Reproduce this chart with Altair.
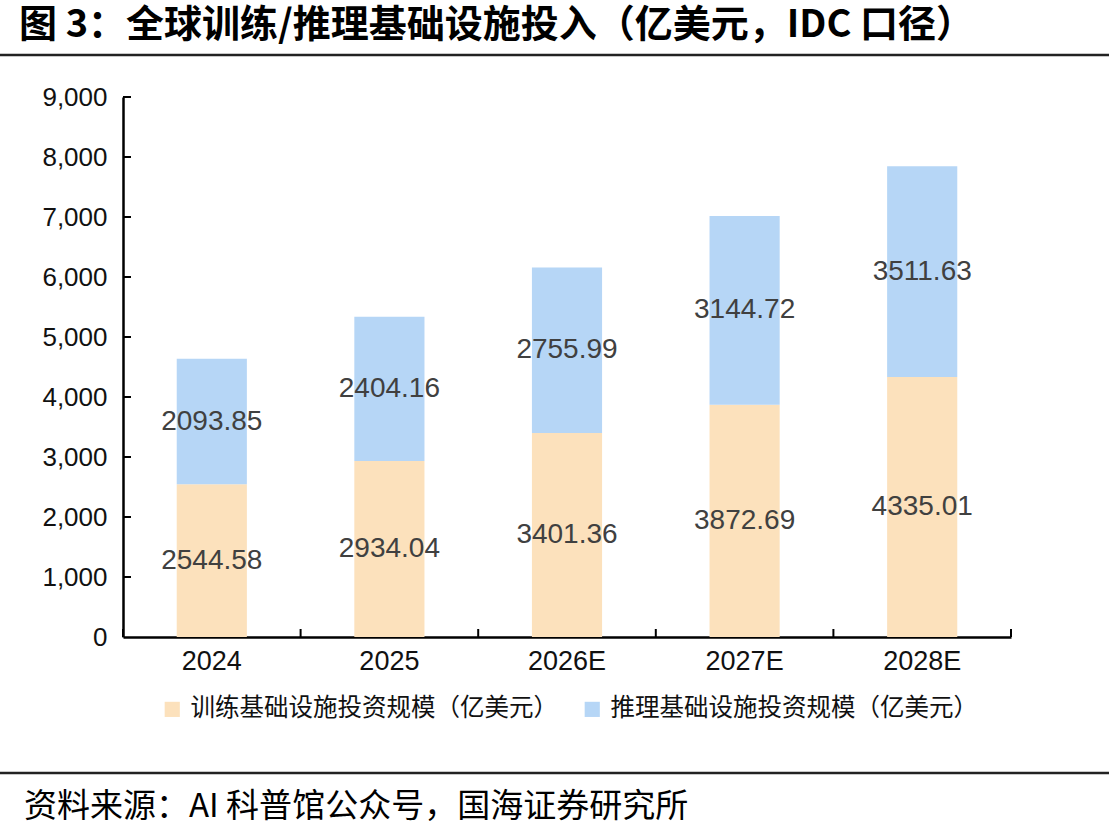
import altair as alt
import pandas as pd

# Global AI infrastructure spend, 100 million USD (IDC)
years = ["2024", "2025", "2026E", "2027E", "2028E"]
training = [2544.58, 2934.04, 3401.36, 3872.69, 4335.01]
inference = [2093.85, 2404.16, 2755.99, 3144.72, 3511.63]
series_names = ["训练基础设施投资规模（亿美元）", "推理基础设施投资规模（亿美元）"]
series_colors = ["#FCE1BC", "#B6D6F6"]
y_ticks = [0, 1000, 2000, 3000, 4000, 5000, 6000, 7000, 8000, 9000]

title_text = "图 3：全球训练/推理基础设施投入（亿美元，IDC 口径）"
source_text = "资料来源：AI 科普馆公众号，国海证券研究所"

rows = []
for i, y in enumerate(years):
    rows.append({"year": y, "series": series_names[0], "value": training[i], "rank": 0})
    rows.append({"year": y, "series": series_names[1], "value": inference[i], "rank": 1})
df = pd.DataFrame(rows)

W, H = 888, 540
NUM_FONT = "Liberation Sans"
CJK_FONT = "Noto Sans CJK SC"

x_scale = alt.Scale(domain=years, paddingInner=0, paddingOuter=0)
y_scale = alt.Scale(domain=[0, 9000], nice=False)
y_axis = alt.Axis(values=y_ticks, format=",.0f", title=None)


def x_enc(**kw):
    return alt.X("year:N", scale=x_scale, sort=years, title=None, **kw)


def y_enc(field):
    return alt.Y(field, scale=y_scale, title=None, axis=y_axis)


base = alt.Chart(df).transform_stack(
    stack="value", groupby=["year"], as_=["y0", "y1"], sort=[alt.SortField("rank")]
).transform_calculate(mid="(datum.y0 + datum.y1) / 2")

bars = base.mark_bar(width=alt.RelativeBandSize(0.395)).encode(
    x=x_enc(),
    y=y_enc("y0:Q"),
    y2="y1:Q",
    color=alt.Color(
        "series:N",
        scale=alt.Scale(domain=series_names, range=series_colors),
        legend=alt.Legend(
            title=None, orient="none", direction="horizontal",
            legendX=37, legendY=600, symbolType="square", symbolSize=230,
            symbolStrokeWidth=0, labelFont=CJK_FONT, labelFontSize=24.5,
            labelColor="#111111", labelOffset=6, columnPadding=22, padding=0,
            labelLimit=500,
        ),
    ),
)

labels = base.mark_text(font=NUM_FONT, fontSize=28, color="#404040").encode(
    x=x_enc(),
    y=y_enc("mid:Q"),
    text=alt.Text("value:Q", format=".2f"),
)

# Inward tick marks on the y axis
ytick_df = pd.DataFrame({"v": y_ticks[1:]})
y_tick_rules = alt.Chart(ytick_df).mark_rule(color="black", strokeWidth=2).encode(
    y=y_enc("v:Q"),
    x=alt.value(0),
    x2=alt.value(8),
)

# Inward tick marks at the category boundaries of the x axis
xtick_df = pd.DataFrame({"year": years})
x_tick_rules = alt.Chart(xtick_df).mark_rule(color="black", strokeWidth=2).encode(
    x=x_enc(bandPosition=0),
    y=alt.value(H),
    y2=alt.value(H - 8),
)
x_end_rule = alt.Chart(pd.DataFrame({"year": [years[-1]]})).mark_rule(
    color="black", strokeWidth=2
).encode(
    x=x_enc(bandPosition=1),
    y=alt.value(H),
    y2=alt.value(H - 8),
)

# Heading, separator lines and source note
heading = alt.Chart(pd.DataFrame({"t": [title_text]})).mark_text(
    font=CJK_FONT, fontSize=38, fontWeight="bold", align="left",
    baseline="middle", color="black",
).encode(text="t:N", x=alt.value(-104), y=alt.value(-71))

source = alt.Chart(pd.DataFrame({"t": [source_text]})).mark_text(
    font=CJK_FONT, fontSize=33, align="left", baseline="middle", color="black",
).encode(text="t:N", x=alt.value(-99), y=alt.value(710))

top_line = alt.Chart(pd.DataFrame({"k": [0]})).mark_rule(
    color="#222222", strokeWidth=2.5
).encode(x=alt.value(-123), x2=alt.value(986), y=alt.value(-42))

bottom_line = alt.Chart(pd.DataFrame({"k": [0]})).mark_rule(
    color="#222222", strokeWidth=2.5
).encode(x=alt.value(-123), x2=alt.value(986), y=alt.value(676))

chart = alt.layer(
    bars, labels, y_tick_rules, x_tick_rules, x_end_rule,
    heading, source, top_line, bottom_line,
).properties(
    width=W, height=H,
    autosize=alt.AutoSizeParams(type="none"),
    padding={"left": 123, "top": 97, "right": 98, "bottom": 202},
    background="white",
).configure_view(stroke=None).configure_axisX(
    domain=True, domainColor="black", domainWidth=2.5, ticks=False,
    labelAngle=0, labelFont=NUM_FONT, labelFontSize=27, labelColor="#111111",
    labelPadding=11, grid=False,
).configure_axisY(
    domain=True, domainColor="black", domainWidth=2.5, ticks=False,
    labelFont=NUM_FONT, labelFontSize=26, labelColor="#111111",
    labelPadding=16, grid=False,
)

chart.save("out.html", embed_options={"renderer": "svg", "actions": False})
